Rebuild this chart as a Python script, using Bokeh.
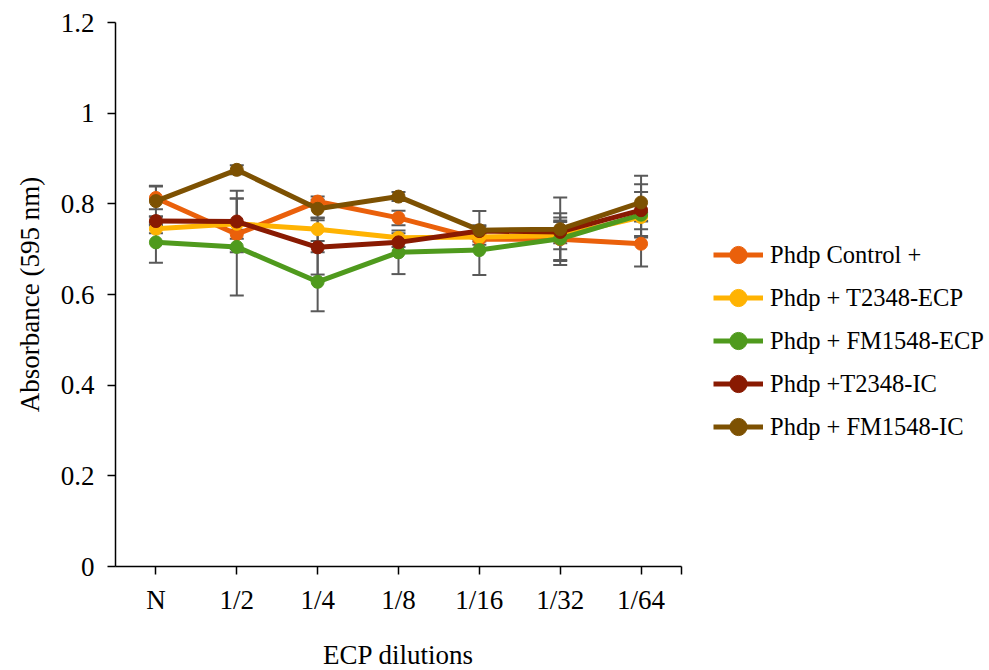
from bokeh.plotting import figure
from bokeh.models import ColumnDataSource, Whisker, Legend, LegendItem, FixedTicker, Range1d, TeeHead
from bokeh.embed import file_html
from bokeh.resources import INLINE

categories = ["N", "1/2", "1/4", "1/8", "1/16", "1/32", "1/64"]
series_names = ["Phdp Control +", "Phdp + T2348-ECP", "Phdp + FM1548-ECP",
                "Phdp +T2348-IC", "Phdp + FM1548-IC"]
control = [0.813, 0.733, 0.805, 0.769, 0.722, 0.722, 0.712]
t2348_ecp = [0.745, 0.756, 0.744, 0.725, 0.727, 0.730, 0.771]
fm1548_ecp = [0.715, 0.705, 0.628, 0.693, 0.698, 0.723, 0.776]
t2348_ic = [0.762, 0.761, 0.704, 0.715, 0.740, 0.738, 0.786]
fm1548_ic = [0.806, 0.875, 0.789, 0.816, 0.742, 0.744, 0.803]

control_err = [0.025, 0.010, 0.011, 0.016, 0.012, 0.057, 0.050]
t2348_ecp_err = [0.010, 0.056, 0.026, 0.010, 0.010, 0.030, 0.010]
fm1548_ecp_err = [0.045, 0.107, 0.065, 0.048, 0.055, 0.047, 0.050]
t2348_ic_err = [0.010, 0.068, 0.060, 0.010, 0.010, 0.025, 0.057]
fm1548_ic_err = [0.034, 0.010, 0.020, 0.010, 0.042, 0.070, 0.059]

y_ticks = [0, 0.2, 0.4, 0.6, 0.8, 1.0, 1.2]

colors = ["#EA600B", "#FFB302", "#4F9A1D", "#891A02", "#7D5102"]
values = [control, t2348_ecp, fm1548_ecp, t2348_ic, fm1548_ic]
errors = [control_err, t2348_ecp_err, fm1548_ecp_err, t2348_ic_err, fm1548_ic_err]

FONT = "Liberation Serif"

p = figure(width=987, height=660, frame_width=566, frame_height=544,
           min_border_left=115, min_border_right=306, min_border_top=22, min_border_bottom=94,
           x_range=Range1d(-0.5, 6.5), y_range=Range1d(0, 1.2),
           output_backend="svg", toolbar_location=None)

p.outline_line_color = None
p.xgrid.grid_line_color = None
p.ygrid.grid_line_color = None
p.background_fill_color = "white"
p.border_fill_color = "white"

xs = list(range(len(categories)))

items = []
for name, vals, errs, col in zip(series_names, values, errors, colors):
    src = ColumnDataSource(dict(
        x=xs, y=vals,
        upper=[v + e for v, e in zip(vals, errs)],
        lower=[v - e for v, e in zip(vals, errs)]))
    w = Whisker(base="x", upper="upper", lower="lower", source=src, dimension="height",
                line_color="#595959", line_width=2, level="underlay",
                upper_head=TeeHead(size=14, line_color="#595959", line_width=2),
                lower_head=TeeHead(size=14, line_color="#595959", line_width=2))
    p.add_layout(w)

for name, vals, errs, col in zip(series_names, values, errors, colors):
    src = ColumnDataSource(dict(x=xs, y=vals))
    l = p.line("x", "y", source=src, line_color=col, line_width=5)
    s = p.scatter("x", "y", source=src, size=13, fill_color=col, line_color=col)
    items.append(LegendItem(label=name, renderers=[l, s]))

legend = Legend(items=items, location=(32, 118), orientation="vertical",
                label_text_font=FONT, label_text_font_size="24.5px", label_text_color="black",
                glyph_width=50, glyph_height=43, label_height=43, spacing=0, padding=0,
                margin=0, border_line_color=None, background_fill_alpha=0, label_standoff=7)
p.add_layout(legend, "right")

# X axis
p.xaxis.ticker = FixedTicker(ticks=xs + [6.5])
overrides = {i: c for i, c in enumerate(categories)}
overrides[6.5] = ""
p.xaxis.major_label_overrides = overrides
p.xaxis.minor_tick_line_color = None
p.xaxis.major_tick_out = 8
p.xaxis.major_tick_in = 0
p.xaxis.axis_label = "ECP dilutions"

# Y axis
p.yaxis.ticker = FixedTicker(ticks=y_ticks)
p.yaxis.major_label_overrides = {0: "0", 0.2: "0.2", 0.4: "0.4", 0.6: "0.6",
                                 0.8: "0.8", 1: "1", 1.2: "1.2"}
p.yaxis.minor_tick_line_color = None
p.yaxis.major_tick_out = 8
p.yaxis.major_tick_in = 0
p.yaxis.axis_label = "Absorbance (595 nm)"

for ax in (p.xaxis[0], p.yaxis[0]):
    ax.axis_line_color = "black"
    ax.axis_line_width = 1.5
    ax.major_tick_line_color = "black"
    ax.major_tick_line_width = 1.5
    ax.major_label_text_font = FONT
    ax.major_label_text_font_size = "27px"
    ax.major_label_text_color = "black"
    ax.axis_label_text_font = FONT
    ax.axis_label_text_font_size = "27px"
    ax.axis_label_text_font_style = "normal"
    ax.axis_label_text_color = "black"

p.xaxis.major_label_standoff = 10
p.xaxis.axis_label_standoff = 22
p.yaxis.major_label_standoff = 13
p.yaxis.axis_label_standoff = 13

open("out.html", "w").write(file_html(p, INLINE))
